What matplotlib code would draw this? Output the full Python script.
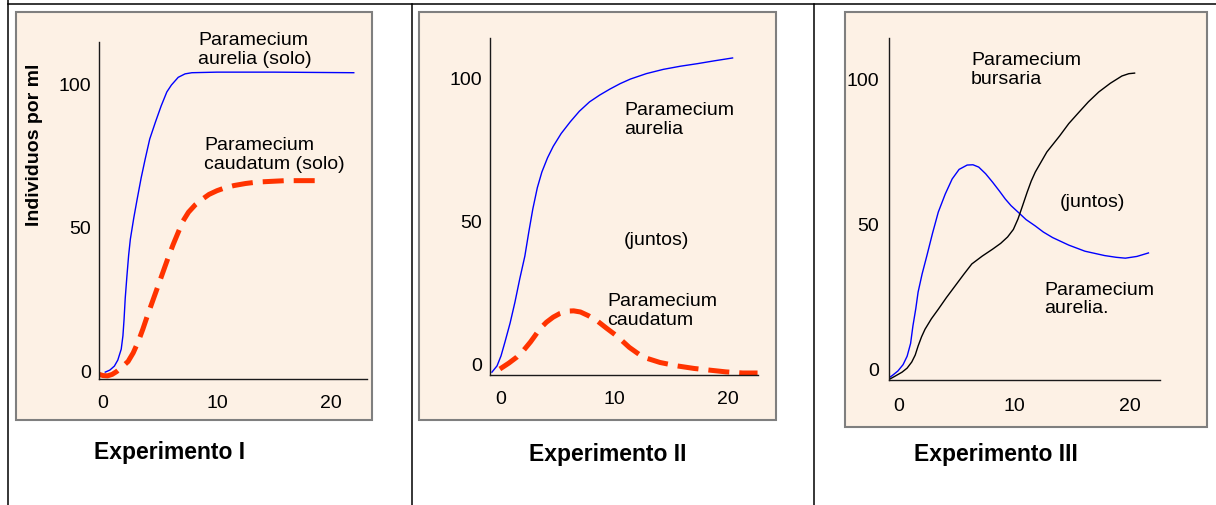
import matplotlib
matplotlib.use("Agg")
import matplotlib.pyplot as plt
from matplotlib.patches import Rectangle
from matplotlib.lines import Line2D

plt.rcParams["font.family"] = ["Liberation Sans", "DejaVu Sans"]

W, H = 1216, 506

# Experimento I (solo)
exp1_aurelia_x = [0.2, 0.6, 1.0, 1.3, 1.6, 1.75, 1.85, 1.95, 2.1, 2.25, 2.4, 2.7, 3.0, 3.35, 3.7,
                  4.1, 4.6, 5.1, 5.6, 6.0, 6.6, 7.2, 7.8, 10, 15, 22]
exp1_aurelia_y = [-0.7, 0, 1.4, 3.5, 7.3, 12, 17.8, 25, 32.8, 40, 45.6, 53, 59.6, 67, 73.5,
                  80.5, 86.4, 92, 96.9, 99.3, 102, 103.2, 103.6, 103.8, 103.8, 103.6]
exp1_caudatum_x = [-0.4, 0, 0.4, 0.8, 1.2, 1.7, 2.2, 2.65, 3.1, 3.5, 3.9, 4.35, 4.8, 5.25, 5.7,
                   6.15, 6.6, 7.0, 7.5, 8.1, 8.7, 9.3, 10, 10.7, 11.5, 12.5, 13.5, 16, 18.8]
exp1_caudatum_y = [-1.4, -1.9, -2, -1.5, -0.5, 1.2, 3, 6, 10, 14.3, 19, 24, 29, 34, 39,
                   43.7, 48, 51.8, 55, 57.6, 59.5, 61.2, 62.5, 63.5, 64.3, 65, 65.5, 66, 66]

# Experimento II (juntos)
exp2_aurelia_x = [-0.8, -0.35, 0, 0.35, 0.8, 1.23, 1.65, 2.1, 2.45, 2.8, 3.2, 3.6, 4.1, 4.6, 5.3,
                  6.1, 6.9, 7.8, 8.7, 9.6, 10.5, 11.4, 12.8, 14.3, 15.8, 17.3, 18.8, 20.4]
exp2_aurelia_y = [-3.2, -1, 2.5, 7.4, 14, 21.4, 29.5, 37.5, 46, 54, 61.5, 67, 72, 76, 80.5,
                  84.6, 88.3, 91.6, 94, 96.1, 98, 99.6, 101.5, 103, 104.1, 105, 106, 107]
exp2_caudatum_x = [-0.1, 0.7, 1.4, 2.0, 2.6, 3.0, 3.4, 4.0, 4.6, 5.2, 5.8, 6.4, 7.0, 7.7, 8.5,
                   9.3, 10.2, 11.3, 12.5, 14, 15.5, 17, 18.4, 19.8, 21.3, 22.6]
exp2_caudatum_y = [-2.1, 0, 2.1, 4.5, 7.4, 9.6, 11.9, 14.3, 16.1, 17.4, 18.2, 18.3, 17.9, 16.6, 14.7,
                   12.2, 9.5, 5.5, 2.1, 0.2, -1, -1.9, -2.5, -3.1, -3.5, -3.5]

# Experimento III (juntos)
exp3_aurelia_x = [-1.04, -0.6, -0.1, 0.35, 0.7, 1.0, 1.2, 1.45, 1.65, 2.0, 2.4, 2.9, 3.4, 4.0,
                  4.6, 5.2, 5.9, 6.4, 6.9, 7.5, 8.1, 8.7, 9.2, 9.7, 10.3, 11.0, 11.8, 12.5,
                  13.3, 14.7, 16.1, 17.8, 18.8, 19.6, 20.6, 21.6]
exp3_aurelia_y = [-3.8, -2.6, -1, 1.2, 4.1, 8.5, 14.5, 20.5, 26.2, 32.5, 38.6, 46.5, 53.8, 60,
                  65.2, 68.5, 70, 70.1, 69.3, 67, 64.1, 61, 58.3, 56, 53.8, 51.2, 49, 46.9,
                  45, 42.4, 40.3, 38.8, 38.2, 37.9, 38.5, 39.7]
exp3_bursaria_x = [-1.04, -0.4, 0.26, 0.7, 1.1, 1.4, 1.65, 1.95, 2.25, 2.8, 3.4, 4.1, 4.85, 5.6,
                   6.3, 7.2, 8.1, 8.8, 9.4, 9.9, 10.3, 10.7, 11.1, 11.45, 11.8, 12.8, 13.9,
                   14.7, 15.6, 16.4, 17.3, 18.3, 19.3, 19.9, 20.4]
exp3_bursaria_y = [-4.3, -2.9, -1.4, 0, 2.1, 4.5, 7.6, 10.8, 13.4, 17, 20.3, 24.3, 28.3, 32.3,
                   35.9, 38.6, 41, 43, 45.2, 47.8, 51.4, 56, 60.7, 64.5, 67.6, 74.5, 80,
                   84.3, 88.3, 91.8, 95.2, 98.2, 100.7, 101.5, 101.7]

x_ticks = [0, 10, 20]
y_ticks = [0, 50, 100]

PEACH = "#fdf1e5"
RED = "#ff3300"
BLUE = "#0000ff"


def fig_rect(left, top, right, bottom):
    return [left / W, 1 - bottom / H, (right - left) / W, (bottom - top) / H]


def make_axes(fig, box, axes_px, xlim, ylim, xpad, ypad):
    l, t, r, b = box
    fig.patches.append(Rectangle((l / W, 1 - b / H), (r - l) / W, (b - t) / H,
                                 transform=fig.transFigure, facecolor=PEACH,
                                 edgecolor="#7f7f7f", linewidth=1.5, zorder=-1))
    ax = fig.add_axes(fig_rect(*axes_px))
    ax.set_facecolor("none")
    ax.set_xlim(*xlim)
    ax.set_ylim(*ylim)
    for s in ["top", "right"]:
        ax.spines[s].set_visible(False)
    for s in ["left", "bottom"]:
        ax.spines[s].set_color("#1a1a1a")
        ax.spines[s].set_linewidth(1.0)
    ax.set_xticks(x_ticks)
    ax.set_yticks(y_ticks)
    ax.tick_params(axis="x", length=0, pad=xpad, labelsize=14)
    ax.tick_params(axis="y", length=0, pad=ypad, labelsize=14)
    return ax


fig = plt.figure(figsize=(W / 100, H / 100), dpi=100)

# table grid lines
for xs, ys in [([8, W], [5, 5]), ([8, 8], [0, H]), ([412, 412], [5, H]), ([814, 814], [5, H])]:
    fig.add_artist(Line2D([x / W for x in xs], [1 - y / H for y in ys],
                          transform=fig.transFigure, color="black", linewidth=1.1))

solid = dict(linewidth=1.0, solid_joinstyle="round")
dash = dict(color=RED, linewidth=3.6, dashes=(4.2, 2.0), dash_capstyle="butt",
            dash_joinstyle="round")
txt = dict(fontsize=14, ha="left", va="center", linespacing=1.15)

# Experimento I
ax1 = make_axes(fig, (16, 13, 372, 421), (99, 43, 367, 380),
                (-0.35, 23.16), (-3.1, 114.3), 11.0, 5.8)
ax1.plot(exp1_aurelia_x, exp1_aurelia_y, color=BLUE, **solid)
ax1.plot(exp1_caudatum_x, exp1_caudatum_y, **dash)
ax1.text(8.33, 111.8, "Paramecium\naurelia (solo)", clip_on=False, **txt)
ax1.text(8.86, 75.4, "Paramecium\ncaudatum (solo)", **txt)

# Experimento II
ax2 = make_axes(fig, (419, 13, 776, 421), (490, 39, 758, 376),
                (-0.97, 22.64), (-4.2, 114.0), 11.0, 5.8)
ax2.plot(exp2_aurelia_x, exp2_aurelia_y, color=BLUE, **solid)
ax2.plot(exp2_caudatum_x, exp2_caudatum_y, **dash)
ax2.text(10.84, 85.6, "Paramecium\naurelia", **txt)
ax2.text(10.84, 43.5, "(juntos)", **txt)
ax2.text(9.34, 18.6, "Paramecium\ncaudatum", **txt)

# Experimento III
ax3 = make_axes(fig, (845, 13, 1207, 428), (889, 39, 1160, 381),
                (-0.87, 22.6), (-4.1, 113.8), 12.5, 7.0)
ax3.plot(exp3_aurelia_x, exp3_aurelia_y, color=BLUE, **solid)
ax3.plot(exp3_bursaria_x, exp3_bursaria_y, color="black", **solid)
ax3.text(6.23, 103.1, "Paramecium\nbursaria", **txt)
ax3.text(13.94, 57.6, "(juntos)", **txt)
ax3.text(12.55, 24.0, "Paramecium\naurelia.", **txt)

fig.text(35 / W, 1 - 145 / H, "Individuos por ml", rotation=90, fontsize=14,
         fontweight="bold", ha="center", va="center")
for x, y, label in [(170, 453, "Experimento I"), (608, 454, "Experimento II"),
                    (996, 455, "Experimento III")]:
    fig.text(x / W, 1 - y / H, label, fontsize=16.5, fontweight="bold",
             ha="center", va="center")

fig.savefig("out.png", dpi=100)
plt.close(fig)
